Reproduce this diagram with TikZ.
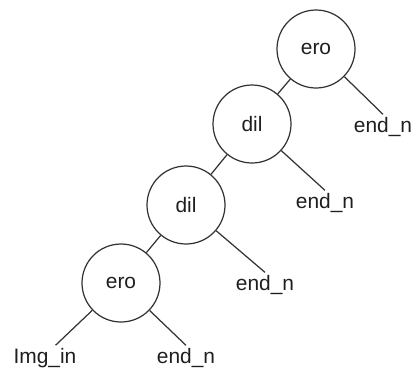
\documentclass[tikz,border=0pt]{standalone}
\usepackage{fontspec}
\setmainfont{Liberation Sans}
\usepackage{xcolor}
\usetikzlibrary{shapes,arrows,positioning,calc}

\definecolor{linegray}{HTML}{333333}
\definecolor{textgray}{HTML}{1E1E1E}

\tikzset{
    opnode/.style={circle, draw=linegray, line width=0.7pt, minimum size=1.56cm, inner sep=0pt, text=textgray},
    endlabel/.style={inner sep=1.5pt, text=textgray},
    link/.style={draw=linegray, line width=0.7pt}
}

\begin{document}
\begin{tikzpicture}[font=\fontsize{11.9}{14}\selectfont]
    \useasboundingbox (0,0) rectangle (8.26,7.52);

    % operation nodes
    \node[opnode] (ero1) at (6.32,6.54) {ero};
    \node[opnode] (dil1) at (5.04,5.04) {dil};
    \node[opnode] (dil2) at (3.72,3.42) {dil};
    \node[opnode] (ero2) at (2.42,1.86) {ero};

    % leaves
    \node[endlabel] (end1) at (7.66,4.98) {end\_n};
    \node[endlabel] (end2) at (6.50,3.46) {end\_n};
    \node[endlabel] (end3) at (5.30,1.82) {end\_n};
    \node[endlabel] (end4) at (3.72,0.36) {end\_n};
    \node[endlabel] (imgin) at (0.90,0.36) {Img\_in};

    % chain
    \draw[link] (ero1) -- (dil1);
    \draw[link] (dil1) -- (dil2);
    \draw[link] (dil2) -- (ero2);

    % branches
    \draw[link] (ero1) -- (end1.north);
    \draw[link] (dil1) -- (end2.north);
    \draw[link] (dil2) -- (end3.north);
    \draw[link] (ero2) -- (end4.north);
    \draw[link] (ero2) -- ([xshift=6pt]imgin.north);
\end{tikzpicture}
\end{document}
